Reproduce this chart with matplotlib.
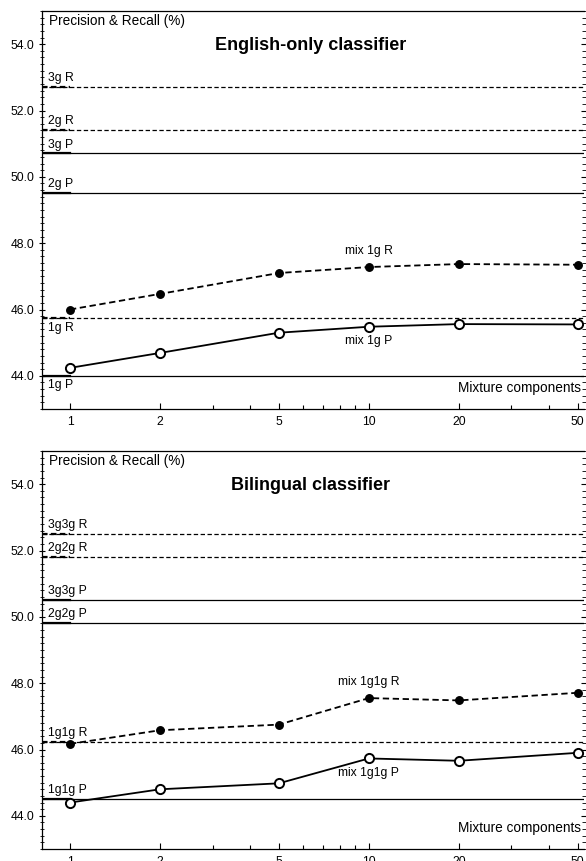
import matplotlib
matplotlib.use("Agg")
import matplotlib.pyplot as plt
from matplotlib.ticker import FixedLocator, MultipleLocator, NullFormatter

plt.rcParams['font.family'] = ['Liberation Sans', 'DejaVu Sans']

components = [1, 2, 5, 10, 20, 50]
x_ticklabels = ["1", "2", "5", "10", "20", "50"]

# English-only classifier
en_mix_R = [46.00, 46.47, 47.10, 47.28, 47.37, 47.35]
en_mix_P = [44.24, 44.69, 45.30, 45.48, 45.56, 45.55]
en_base_labels = ["3g R", "2g R", "3g P", "2g P", "1g R", "1g P"]
en_base_values = [52.71, 51.41, 50.71, 49.52, 45.74, 44.01]
en_base_style = ["--", "--", "-", "-", "--", "-"]
en_label_below = [False, False, False, False, True, True]

# Bilingual classifier
bi_mix_R = [46.17, 46.58, 46.75, 47.55, 47.48, 47.71]
bi_mix_P = [44.40, 44.80, 44.98, 45.73, 45.66, 45.90]
bi_base_labels = ["3g3g R", "2g2g R", "3g3g P", "2g2g P", "1g1g R", "1g1g P"]
bi_base_values = [52.51, 51.81, 50.52, 49.82, 46.23, 44.51]
bi_base_style = ["--", "--", "-", "-", "--", "-"]
bi_label_below = [False, False, False, False, False, False]

W, H = 586, 861
fig = plt.figure(figsize=(W / 100, H / 100), dpi=100)

def px_axes(left, top, right, bottom):
    return fig.add_axes([left / W, 1 - bottom / H, (right - left) / W, (bottom - top) / H])

ax1 = px_axes(42, 11, 584, 409)
ax2 = px_axes(42, 451, 584, 849)

XLIM = (0.806, 52.5)
YLIM = (43.0, 55.0)
FS = 8.7

def draw(ax, title, mixR, mixP, mixR_lab, mixP_lab, blabels, bvals, bstyles, bbelow):
    ax.set_xscale('log')
    ax.set_xlim(*XLIM)
    ax.set_ylim(*YLIM)
    # baseline horizontal lines
    for lab, v, st, below in zip(blabels, bvals, bstyles, bbelow):
        ax.axhline(v, color='black', lw=0.9, ls=st,
                   dashes=(3.5, 2) if st == '--' else (None, None), zorder=2)
        ax.plot([XLIM[0], 1.0], [v, v], color='black', lw=1.6, ls=st,
                dashes=(2.5, 1.5) if st == '--' else (None, None), zorder=2)
        if below:
            ax.text(0.845, v - 0.12, lab, fontsize=FS, ha='left', va='top', zorder=3)
        else:
            ax.text(0.845, v + 0.08, lab, fontsize=FS, ha='left', va='bottom', zorder=3)
    ax.plot(components, mixR, color='black', lw=1.3, ls='--', dashes=(3.5, 2),
            marker='o', ms=5.4, mfc='black', mec='black', zorder=4)
    ax.plot(components, mixP, color='black', lw=1.3, ls='-',
            marker='o', ms=6.6, mfc='white', mec='black', mew=1.4, zorder=4)
    ax.text(10, mixR[3] + 0.3, mixR_lab, fontsize=FS, ha='center', va='bottom')
    ax.text(10, mixP[3] - 0.25, mixP_lab, fontsize=FS, ha='center', va='top')

    ax.text(0.012, 0.993, "Precision & Recall (%)", transform=ax.transAxes,
            fontsize=9.8, ha='left', va='top')
    ax.text(0.995, 0.035, "Mixture components", transform=ax.transAxes,
            fontsize=9.8, ha='right', va='bottom')
    ax.text(0.495, 0.913, title, transform=ax.transAxes, fontsize=13,
            fontweight='bold', ha='center', va='center')

    ax.xaxis.set_major_locator(FixedLocator(components))
    ax.set_xticklabels(x_ticklabels)
    ax.xaxis.set_minor_locator(FixedLocator([3, 4, 6, 7, 8, 9, 30, 40]))
    ax.xaxis.set_minor_formatter(NullFormatter())
    ax.yaxis.set_major_locator(FixedLocator([44, 46, 48, 50, 52, 54]))
    ax.set_yticklabels(["44.0", "46.0", "48.0", "50.0", "52.0", "54.0"])
    ax.yaxis.set_minor_locator(MultipleLocator(0.2))

    ax.tick_params(axis='x', which='major', direction='in', length=4, width=0.8,
                   labelsize=FS, pad=5, top=False)
    ax.tick_params(axis='x', which='minor', direction='in', length=3, width=0.8, top=False)
    ax.tick_params(axis='y', which='major', direction='inout', length=5, width=0.8,
                   labelsize=FS, pad=3, right=True)
    ax.tick_params(axis='y', which='minor', direction='inout', length=2.5, width=0.6, right=True)
    ax.spines['right'].set_visible(False)
    for s in ['left', 'top', 'bottom']:
        ax.spines[s].set_linewidth(0.9)

draw(ax1, "English-only classifier", en_mix_R, en_mix_P, "mix 1g R", "mix 1g P",
     en_base_labels, en_base_values, en_base_style, en_label_below)
draw(ax2, "Bilingual classifier", bi_mix_R, bi_mix_P, "mix 1g1g R", "mix 1g1g P",
     bi_base_labels, bi_base_values, bi_base_style, bi_label_below)

fig.savefig("out.png", dpi=100)
